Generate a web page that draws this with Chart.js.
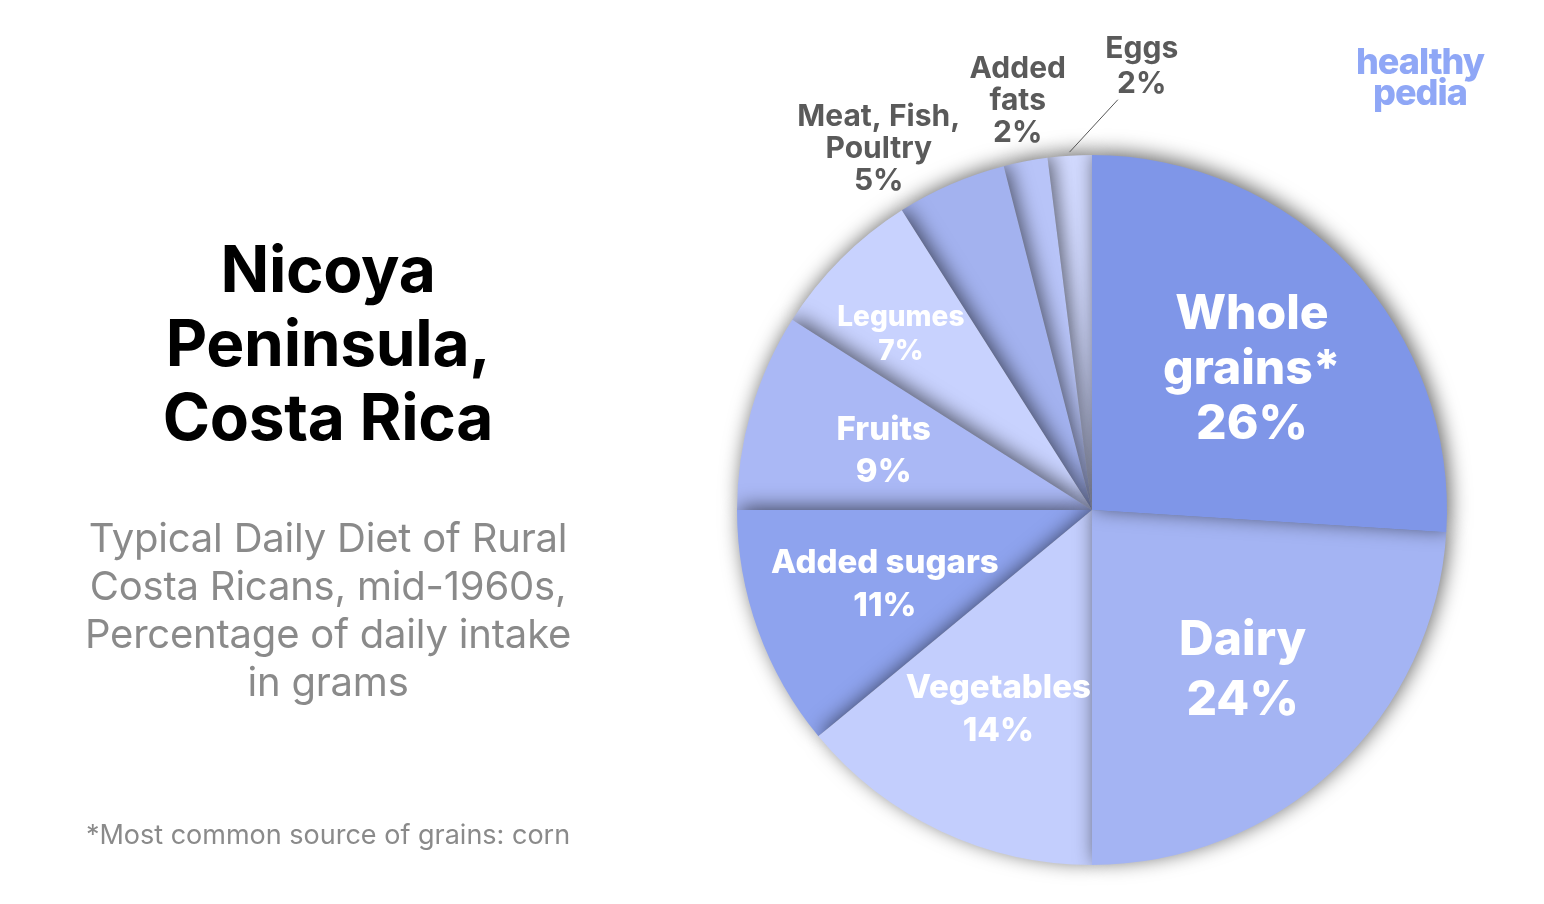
<!DOCTYPE html>
<html>
<head>
<meta charset="utf-8">
<script src="https://cdn.jsdelivr.net/npm/chart.js@4.4.1/dist/chart.umd.min.js"></script>
<style>
  html, body { margin: 0; padding: 0; background: #fff; }
  body { width: 1544px; height: 904px; position: relative; overflow: hidden; font-family: Inter, "Noto Sans", sans-serif; }
  #chartBox { position: absolute; left: 0; top: 0; width: 1544px; height: 904px; }
  .side { position: absolute; left: 28px; width: 600px; text-align: center; }
  #title { top: 232px; font-size: 64px; font-weight: 700; line-height: 74px; color: #000; letter-spacing: -0.3px; }
  #subtitle { top: 514px; font-size: 40px; font-weight: 400; line-height: 48px; color: #8a8a8a; letter-spacing: -0.2px; }
  #note { top: 819px; font-size: 27px; line-height: 32px; color: #8a8a8a; letter-spacing: 0px; }
  #logo { position: absolute; left: 1340px; top: 46px; width: 160px; text-align: center; font-size: 36px; font-weight: 800; line-height: 31px; color: #8fa7f6; letter-spacing: -1px; }
</style>
</head>
<body>
<div id="chartBox"><canvas id="pie"></canvas></div>
<div class="side" id="title">Nicoya<br>Peninsula,<br>Costa Rica</div>
<div class="side" id="subtitle">Typical Daily Diet of Rural<br>Costa Ricans, mid-1960s,<br>Percentage of daily intake<br>in grams</div>
<div class="side" id="note">*Most common source of grains: corn</div>
<div id="logo">healthy<br>pedia</div>
<script>
// data, clockwise from 12 o'clock
const categories = ["Whole grains*", "Dairy", "Vegetables", "Added sugars", "Fruits", "Legumes", "Meat, Fish, Poultry", "Added fats", "Eggs"];
const shares = [26, 24, 14, 11, 9, 7, 5, 2, 2];
const labelLines = [["Whole", "grains*"], ["Dairy"], ["Vegetables"], ["Added sugars"], ["Fruits"], ["Legumes"], ["Meat, Fish,", "Poultry"], ["Added", "fats"], ["Eggs"]];

// styling per slice
const sliceColors = ["#7f96e8", "#a4b4f3", "#c3cefd", "#8ea3ee", "#aab8f5", "#c8d2fe", "#a3b2ef", "#b8c4f8", "#d2daff"];
const labelSize = [48, 48, 33, 33, 33, 28, 30, 30, 30];
const labelGap = [55, 60, 43, 43, 42, 34, 32, 32, 35];
const labelInside = [true, true, true, true, true, true, false, false, false];
// where the label sits: fraction along slice angle, fraction of radius
const labelT = [0.52, 0.5, 0.5, 0.5, 0.49, 0.40, 0.10, 0.57, 1.89];
const labelR = [0.60, 0.62, 0.62, 0.62, 0.61, 0.73, 1.18, 1.17, 1.256];

let sliceShadows = {
    id: "sliceShadows",
    beforeDatasetsDraw: function (chart) {
        let ctx = chart.ctx;
        let arcs = chart.getDatasetMeta(0).data;
        for (let i = arcs.length - 1; i >= 0; i--) {
            ctx.save();
            ctx.shadowColor = "rgba(0,0,0,0.6)";
            ctx.shadowBlur = 20;
            ctx.shadowOffsetX = 3;
            ctx.shadowOffsetY = -3;
            arcs[i].draw(ctx);
            ctx.restore();
        }
        return false;
    }
};

let sliceLabels = {
    id: "sliceLabels",
    afterDraw: function (chart) {
        let ctx = chart.ctx;
        let arcs = chart.getDatasetMeta(0).data;
        arcs.forEach(function (arc, i) {
            let a = arc.startAngle + labelT[i] * (arc.endAngle - arc.startAngle);
            let r = labelR[i] * arc.outerRadius;
            let cx = arc.x + Math.cos(a) * r;
            let cy = arc.y + Math.sin(a) * r;
            let lines = labelLines[i].concat([shares[i] + "%"]);
            let size = labelSize[i];
            ctx.save();
            ctx.font = (labelInside[i] ? "800 " : "700 ") + size + "px Inter, 'Noto Sans', sans-serif";
            ctx.textAlign = "center";
            ctx.textBaseline = "middle";
            ctx.fillStyle = labelInside[i] ? "#ffffff" : "#5a5a5a";
            let top = cy - (lines.length - 1) * labelGap[i] / 2;
            lines.forEach(function (line, k) {
                ctx.fillText(line, cx, top + k * labelGap[i]);
            });
            ctx.restore();
        });
        // leader line for the last small slice
        let last = arcs[arcs.length - 1];
        let m = (last.startAngle + last.endAngle) / 2;
        let a2 = last.startAngle + 1.5 * (last.endAngle - last.startAngle);
        ctx.save();
        ctx.strokeStyle = "#555";
        ctx.lineWidth = 1;
        ctx.beginPath();
        ctx.moveTo(last.x + Math.cos(m) * last.outerRadius * 1.01, last.y + Math.sin(m) * last.outerRadius * 1.01);
        ctx.lineTo(last.x + Math.cos(a2) * last.outerRadius * 1.158, last.y + Math.sin(a2) * last.outerRadius * 1.158);
        ctx.stroke();
        ctx.restore();
    }
};

new Chart(document.getElementById("pie"), {
    type: "pie",
    data: {
        labels: categories,
        datasets: [{
            data: shares,
            backgroundColor: sliceColors,
            borderWidth: 0
        }]
    },
    options: {
        responsive: true,
        maintainAspectRatio: false,
        animation: false,
        layout: { padding: { left: 737, right: 97, top: 155, bottom: 39 } },
        plugins: {
            legend: { display: false },
            tooltip: { enabled: false }
        }
    },
    plugins: [sliceShadows, sliceLabels]
});
</script>
</body>
</html>
